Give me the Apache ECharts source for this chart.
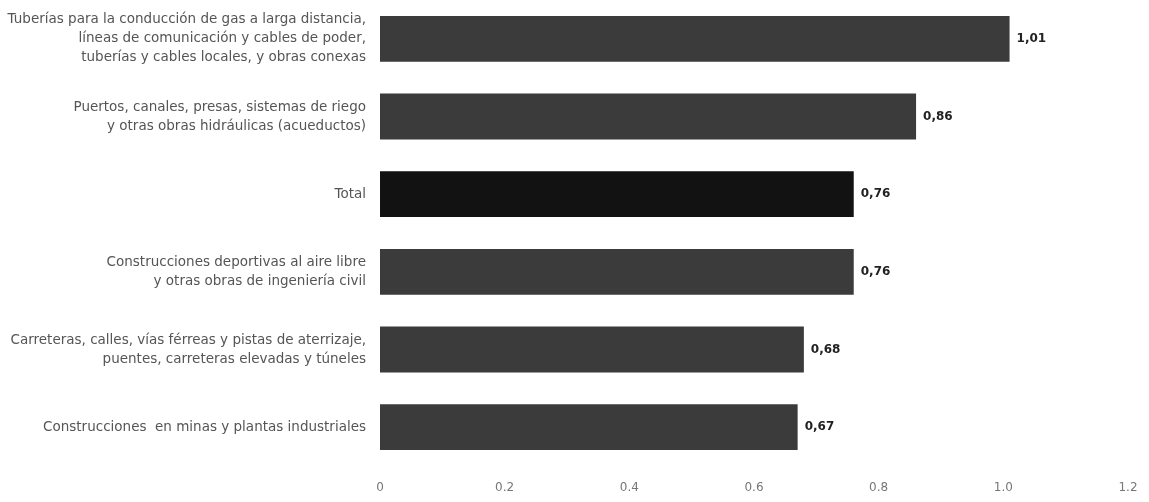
<!DOCTYPE html>
<html>
<head>
<meta charset="utf-8">
<script src="https://cdn.jsdelivr.net/npm/echarts@6/dist/echarts.min.js"></script>
<style>
html,body{margin:0;padding:0;background:#fff;}
#chart{width:1149px;height:502px;}
</style>
</head>
<body>
<div id="chart"></div>
<script>
const categories = [
  "Tuberías para la conducción de gas a larga distancia,\nlíneas de comunicación y cables de poder,\ntuberías y cables locales, y obras conexas",
  "Puertos, canales, presas, sistemas de riego\ny otras obras hidráulicas (acueductos)",
  "Total",
  "Construcciones deportivas al aire libre\ny otras obras de ingeniería civil",
  "Carreteras, calles, vías férreas y pistas de aterrizaje,\npuentes, carreteras elevadas y túneles",
  "Construcciones  en minas y plantas industriales"
];
const values = [1.01, 0.86, 0.76, 0.76, 0.68, 0.67];
const valueLabels = ["1,01", "0,86", "0,76", "0,76", "0,68", "0,67"];
const tickLabels = ["0", "0.2", "0.4", "0.6", "0.8", "1.0", "1.2"];

const chart = echarts.init(document.getElementById('chart'), null, {renderer: 'canvas'});
chart.setOption({
  animation: false,
  backgroundColor: '#ffffff',
  grid: {left: 380, right: 21, top: -2, bottom: 36, containLabel: false},
  xAxis: {
    type: 'value', min: 0, max: 1.2, interval: 0.2,
    axisLine: {show: false}, axisTick: {show: false}, splitLine: {show: false},
    axisLabel: {
      margin: 16, color: '#777', fontSize: 12, fontFamily: 'DejaVu Sans, sans-serif',
      formatter: function (v) { return tickLabels[Math.round(v / 0.2)]; }
    }
  },
  yAxis: {
    type: 'category', data: categories, inverse: true,
    axisLine: {show: false},
    axisTick: {show: false},
    axisLabel: {
      margin: 14, color: '#555', fontSize: 13.5, lineHeight: 19, align: 'right',
      fontFamily: 'DejaVu Sans, sans-serif'
    }
  },
  series: [{
    type: 'bar',
    data: values.map(function (v, i) {
      return {value: v, itemStyle: {color: categories[i] === 'Total' ? '#121212' : '#3b3b3b'}};
    }),
    barCategoryGap: '41%',
    label: {
      show: true, position: 'right', distance: 7, color: '#222', fontSize: 12, fontWeight: 'bold',
      fontFamily: 'DejaVu Sans, sans-serif',
      formatter: function (p) { return valueLabels[p.dataIndex]; }
    }
  }]
});
</script>
</body>
</html>
